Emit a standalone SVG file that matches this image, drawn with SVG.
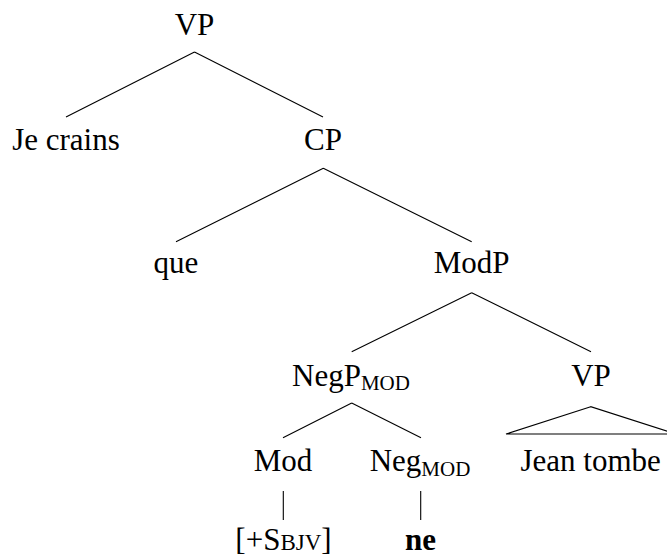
<svg xmlns="http://www.w3.org/2000/svg" width="667" height="557" viewBox="0 0 667 557">
<style>
.t{font-family:'Liberation Serif','Times New Roman',serif;font-size:31px;fill:#000;text-anchor:middle}
.sc{font-size:21px}
.sc2{font-size:23px}
.b{font-weight:bold}
.e{stroke:#000;stroke-width:1.1;fill:none}
</style>
<rect width="667" height="557" fill="#fff"/>
<g id="connectors">
<path class="e" d="M194.5,52 L66,117 M194.5,52 L323,117"/>
<path class="e" d="M323.3,168.3 L176,241.7 M323.3,168.3 L471.7,241.7"/>
<path class="e" d="M471.7,292.7 L351.7,351.7 M471.7,292.7 L591,351.7"/>
<path class="e" d="M351.7,403 L283,437.7 M351.7,403 L421,437.7"/>
<path class="e" d="M590.7,406.7 L506,434 L676,434 Z"/>
<path class="e" d="M283.3,491 L283.3,520 M420.7,491 L420.7,520"/>
</g>
<g id="n-vp-top"><text class="t" x="194.5" y="35">VP</text></g>
<g id="n-jecrains"><text class="t" x="66" y="150">Je crains</text></g>
<g id="n-cp"><text class="t" x="323" y="150">CP</text></g>
<g id="n-que"><text class="t" x="176" y="273">que</text></g>
<g id="n-modp"><text class="t" x="471.7" y="273">ModP</text></g>
<g id="n-negp"><text class="t" x="351" y="385.5">NegP<tspan class="sc" dy="4.5">MOD</tspan></text></g>
<g id="n-vp"><text class="t" x="591" y="385.5">VP</text></g>
<g id="n-mod"><text class="t" x="283" y="471">Mod</text></g>
<g id="n-neg"><text class="t" x="420" y="471">Neg<tspan class="sc" dy="4.5">MOD</tspan></text></g>
<g id="n-jeantombe"><text class="t" x="590.7" y="471">Jean tombe</text></g>
<g id="n-sbjv"><text class="t" x="283.5" y="550">[+S<tspan class="sc2">BJV</tspan>]</text></g>
<g id="n-ne"><text class="t b" x="420.5" y="550">ne</text></g>
</svg>
